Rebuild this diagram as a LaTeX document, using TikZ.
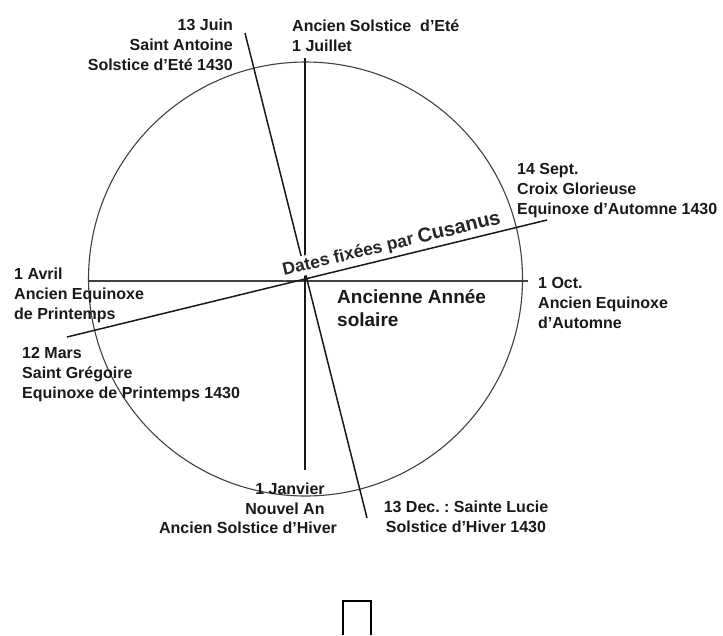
\documentclass[tikz,border=0pt]{standalone}
\usepackage{fontspec}
\setmainfont{Liberation Sans}
\frenchspacing
\begin{document}
\begin{tikzpicture}[x=1pt,y=-1pt,
  lbl/.style={inner sep=0pt, font=\fontsize{16}{20}\selectfont\bfseries, text=black!90},
  big/.style={inner sep=0pt, font=\fontsize{19}{23}\selectfont\bfseries, text=black!90},
  circ/.style={draw=black!75, line width=1.1pt},
  axisline/.style={draw=black!75, line width=2pt},
  tiltline/.style={draw=black!90, line width=1.5pt},
  tofu/.style={draw=black, line width=2pt}]
\useasboundingbox (0,0) rectangle (723,635);
% geometry
\coordinate (ctr) at (305.5,279);
\coordinate (hl) at (89,281);  \coordinate (hr) at (528,281);
\coordinate (vt) at (305,58);  \coordinate (vb) at (305,470);
\coordinate (st) at (245,33);  \coordinate (sb) at (367,518);
\coordinate (el) at (67,337);  \coordinate (er) at (547,220);
\draw[circ] (ctr) circle[radius=217pt];
\draw[axisline] (hl) -- (hr);
\draw[tiltline] (vt) -- (vb);
\draw[tiltline] (st) -- (sb);
\draw[tiltline] (el) -- (er);
% rotated caption
\node[rotate=13.5, anchor=base west, fill=white, inner sep=1pt, text=black!85] (cus) at (283,276)
  {\fontsize{17.5}{20}\selectfont\bfseries Dates fixées par \fontsize{20}{22}\selectfont Cusanus};
% labels (base anchor of a multi-line node = baseline of its last line)
\node[lbl, align=right, anchor=base east] (juin) at (233,70) {13 Juin\\Saint Antoine\\Solstice d’Eté 1430};
\node[lbl, align=left, anchor=base west] (juil) at (292,51) {Ancien Solstice~~d’Eté\\1 Juillet};
\node[lbl, align=left, anchor=base west] (sept) at (517,214) {14 Sept.\\Croix Glorieuse\\Equinoxe d’Automne 1430};
\node[lbl, align=left, anchor=base west] (oct) at (538,328) {1 Oct.\\Ancien Equinoxe\\d’Automne};
\node[lbl, align=left, anchor=base west] (avril) at (14,319) {1 Avril\\Ancien Equinoxe\\de Printemps};
\node[lbl, align=left, anchor=base west] (mars) at (22,398) {12 Mars\\Saint Grégoire\\Equinoxe de Printemps 1430};
\node[lbl, anchor=base] (janv) at (290,494) {1 Janvier};
\node[lbl, anchor=base] (nouvel) at (285,514) {Nouvel An};
\node[lbl, anchor=base] (hiver) at (248,533) {Ancien Solstice d’Hiver};
\node[lbl, align=center, anchor=base] (dec) at (466,532) {13 Dec. : Sainte Lucie\\Solstice d’Hiver 1430};
\node[big, align=left, anchor=base west] (annee) at (337,326) {Ancienne Année\\solaire};
% missing-glyph box at the bottom
\draw[tofu] (343,635) |- (371,601) -- (371,635);
\end{tikzpicture}
\end{document}
